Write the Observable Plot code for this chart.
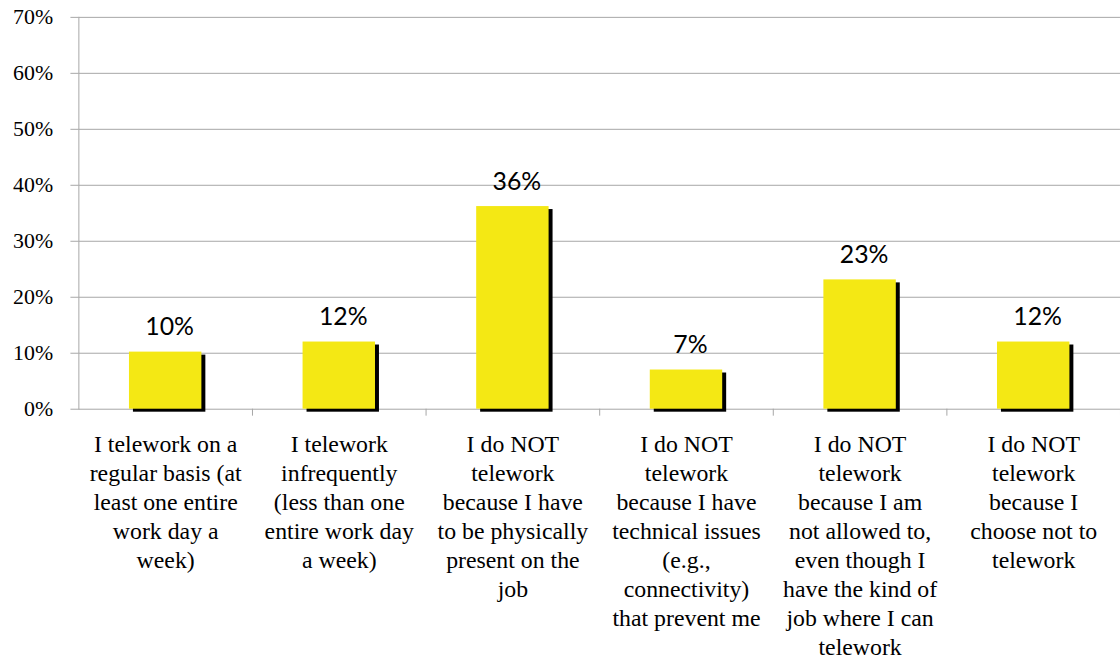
<!DOCTYPE html>
<html><head><meta charset="utf-8">
<script src="https://cdn.jsdelivr.net/npm/d3@7"></script>
<script src="https://cdn.jsdelivr.net/npm/@observablehq/plot@0.6"></script>
<style>
html,body{margin:0;padding:0;background:#fff;overflow:hidden}
#chart svg text{font-family:"Liberation Serif","Times New Roman","DejaVu Serif",serif !important;}
#chart svg g.vlabels text{font-family:Lato,"Open Sans",sans-serif !important;}
</style>
</head><body><div id="chart"></div>
<script>
const categories = [
  "I telework on a\nregular basis (at\nleast one entire\nwork day a\nweek)",
  "I telework\ninfrequently\n(less than one\nentire work day\na week)",
  "I do NOT\ntelework\nbecause I have\nto be physically\npresent on the\njob",
  "I do NOT\ntelework\nbecause I have\ntechnical issues\n(e.g.,\nconnectivity)\nthat prevent me",
  "I do NOT\ntelework\nbecause I am\nnot allowed to,\neven though I\nhave the kind of\njob where I can\ntelework",
  "I do NOT\ntelework\nbecause I\nchoose not to\ntelework"
];
const values = [10.2, 12.0, 36.2, 7.0, 23.1, 12.0];
const valueLabels = ["10%", "12%", "36%", "7%", "23%", "12%"];
const yTicks = [0, 10, 20, 30, 40, 50, 60, 70];
const yTickLabels = ["0%", "10%", "20%", "30%", "40%", "50%", "60%", "70%"];

const data = categories.map((c, i) => ({category: c, value: values[i], label: valueLabels[i]}));

const width = 1129, marginLeft = 79, marginRight = 0;
const halfStep = (width - marginLeft - marginRight) / categories.length / 2;
const grid = "#a6a6a6";

const chart = Plot.plot({
  width, height: 670, marginLeft, marginRight, marginTop: 17, marginBottom: 258,
  style: {background: "#fff", overflow: "visible", fontSize: "22px", color: "#000"},
  x: {domain: categories, paddingInner: 0.585, paddingOuter: 0.2925, label: null},
  y: {domain: [0, 70], label: null},
  marks: [
    Plot.ruleY(yTicks, {stroke: grid, strokeWidth: 1}),
    Plot.frame({anchor: "left", stroke: grid}),
    Plot.axisY(yTicks, {
      tickSize: 8, tickPadding: 18, stroke: grid, fill: "#000",
      tickFormat: d => yTickLabels[yTicks.indexOf(d)],
      fontSize: 22, label: null
    }),
    Plot.ruleX(categories, {x: d => d, dx: halfStep, y1: 0, y2: 0, insetBottom: -7, stroke: grid}),
    Plot.barY(data, {x: "category", y: "value", fill: "#000", dx: 4, dy: 3}),
    Plot.barY(data, {x: "category", y: "value", fill: "#f4e814"}),
    Plot.text(data, {
      x: "category", y: "value", text: "label", dx: 4, dy: -17, lineAnchor: "bottom",
      fontSize: 25, fill: "#000", className: "vlabels"
    }),
    Plot.axisX({
      tickSize: 0, tickPadding: 22, fontSize: 24,
      lineHeight: 1.22, fill: "#000", label: null, tickFormat: d => d
    })
  ]
});
document.getElementById("chart").appendChild(chart);
</script>
</body></html>
